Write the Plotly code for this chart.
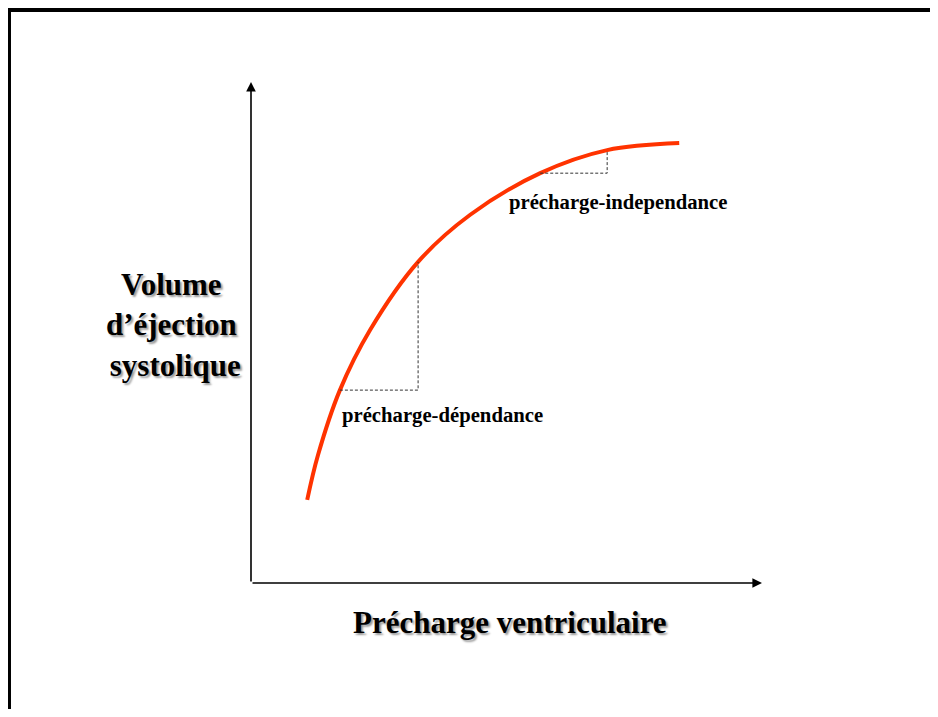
import plotly.graph_objects as go

# Courbe de Frank-Starling (unités arbitraires)
precharge = [1.10, 1.31, 1.74, 2.33, 3.27, 4.29, 5.66, 6.97, 8.38]
vol_ejection = [1.66, 2.55, 3.85, 5.05, 6.41, 7.35, 8.18, 8.64, 8.78]

# zones en pointillés
dep_x = [1.74, 3.27, 3.27]
dep_y = [3.85, 3.85, 6.41]
indep_x = [5.66, 6.97, 6.97]
indep_y = [8.18, 8.18, 8.64]

x_max = 10
y_max = 10

fig = go.Figure()

fig.add_trace(go.Scatter(x=precharge, y=vol_ejection, mode="lines",
                         line=dict(color="#FF3300", width=4, shape="spline", smoothing=1.0),
                         showlegend=False, hoverinfo="skip"))
fig.add_trace(go.Scatter(x=dep_x, y=dep_y, mode="lines",
                         line=dict(color="#333333", width=1, dash="3px,2px"),
                         showlegend=False, hoverinfo="skip"))
fig.add_trace(go.Scatter(x=indep_x, y=indep_y, mode="lines",
                         line=dict(color="#333333", width=1, dash="3px,2px"),
                         showlegend=False, hoverinfo="skip"))

# axes avec flèches
fig.add_annotation(x=x_max, y=0, ax=0, ay=0, xref="x", yref="y", axref="x", ayref="y",
                   text="", showarrow=True, arrowhead=2, arrowsize=1.2, arrowwidth=1.6,
                   arrowcolor="black", standoff=0)
fig.add_annotation(x=0, y=y_max, ax=0, ay=0, xref="x", yref="y", axref="x", ayref="y",
                   text="", showarrow=True, arrowhead=2, arrowsize=1.2, arrowwidth=1.6,
                   arrowcolor="black", standoff=0)

big = dict(family="Liberation Serif", size=31, color="black", weight="bold",
           shadow="2px 2px 2px #9a9a9a")
small = dict(family="Liberation Serif", size=20.7, color="black", weight="bold")

fig.add_annotation(x=-0.1546, y=0.515, xref="paper", yref="paper", showarrow=False,
                   text="Volume<br>d’éjection<br> systolique", font=big,
                   xanchor="center", yanchor="middle", align="center")
fig.add_annotation(x=0.507, y=-0.078, xref="paper", yref="paper", showarrow=False,
                   text="Précharge ventriculaire", font=big,
                   xanchor="center", yanchor="middle")
fig.add_annotation(x=1.74, y=3.35, xref="x", yref="y", showarrow=False,
                   text="précharge-dépendance", font=small,
                   xanchor="left", yanchor="middle")
fig.add_annotation(x=5.01, y=7.60, xref="x", yref="y", showarrow=False,
                   text="précharge-independance", font=small,
                   xanchor="left", yanchor="middle")

# cadre de la diapositive
fig.add_shape(type="rect", xref="paper", yref="paper",
              x0=-0.4736, x1=1.45, y0=-0.35, y1=1.1437,
              line=dict(color="black", width=4))

fig.update_xaxes(range=[0, x_max], visible=False, showgrid=False, zeroline=False)
fig.update_yaxes(range=[0, y_max], visible=False, showgrid=False, zeroline=False)
fig.update_layout(width=922, height=701, autosize=False,
                  margin=dict(l=243, r=168, t=74, b=126),
                  plot_bgcolor="white", paper_bgcolor="white")

fig.write_html("out.html")
